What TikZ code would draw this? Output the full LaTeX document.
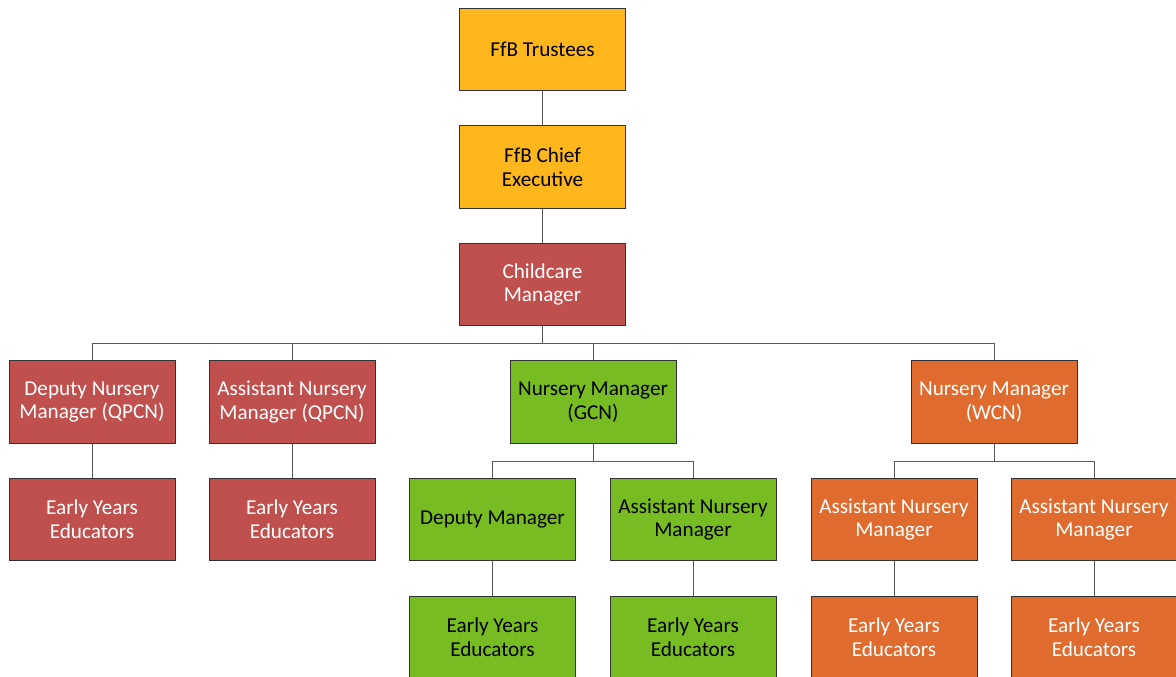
\documentclass[tikz,border=0pt]{standalone}
\usepackage{fontspec}
\setmainfont{Carlito}
\definecolor{ffbyellow}{HTML}{FDB71D}
\definecolor{ffbred}{HTML}{C0504D}
\definecolor{ffbgreen}{HTML}{77BC22}
\definecolor{ffborange}{HTML}{E06B2F}
\tikzset{
    orgbox/.style={draw=black!80, line width=0.75pt, minimum width=124.5pt, minimum height=62pt,
        inner sep=2pt, align=center, font=\fontsize{15.9}{17.8}\selectfont},
    yellowbox/.style={orgbox, fill=ffbyellow, text=black},
    redbox/.style={orgbox, fill=ffbred, text=white},
    greenbox/.style={orgbox, fill=ffbgreen, text=black},
    orangebox/.style={orgbox, fill=ffborange, text=white},
    link/.style={draw=black!65, line width=0.75pt}
}
\begin{document}
\begin{tikzpicture}[x=0.75pt, y=-0.75pt]
    \useasboundingbox (0,0) rectangle (1176,677);
    % top of the chart
    \node[yellowbox] (trustees) at (542.5,49.5) {FfB Trustees};
    \node[yellowbox] (chief) at (542.5,167) {FfB Chief\\Executive};
    \node[redbox] (childcare) at (542.5,284.5) {Childcare\\Manager};
    % second row
    \node[redbox] (qpcndeputy) at (92,402) {Deputy Nursery\\Manager (QPCN)};
    \node[redbox] (qpcnassist) at (292,402) {Assistant Nursery\\Manager (QPCN)};
    \node[greenbox] (gcn) at (593,402) {Nursery Manager\\(GCN)};
    \node[orangebox] (wcn) at (994,402) {Nursery Manager\\(WCN)};
    % third row
    \node[redbox] (qpcneye1) at (92,519.5) {Early Years\\Educators};
    \node[redbox] (qpcneye2) at (292,519.5) {Early Years\\Educators};
    \node[greenbox] (gcndeputy) at (492.5,519.5) {Deputy Manager};
    \node[greenbox] (gcnassist) at (693,519.5) {Assistant Nursery\\Manager};
    \node[orangebox] (wcnassist1) at (894,519.5) {Assistant Nursery\\Manager};
    \node[orangebox] (wcnassist2) at (1094,519.5) {Assistant Nursery\\Manager};
    % fourth row
    \node[greenbox] (gcneye1) at (492.5,637.5) {Early Years\\Educators};
    \node[greenbox] (gcneye2) at (693,637.5) {Early Years\\Educators};
    \node[orangebox] (wcneye1) at (894,637.5) {Early Years\\Educators};
    \node[orangebox] (wcneye2) at (1094,637.5) {Early Years\\Educators};
    % connectors
    \draw[link] (trustees) -- (chief);
    \draw[link] (chief) -- (childcare);
    \foreach \n in {qpcndeputy,qpcnassist,gcn,wcn}
        \draw[link] (childcare.south) -- ++(0,17.5) -| (\n.north);
    \draw[link] (qpcndeputy) -- (qpcneye1);
    \draw[link] (qpcnassist) -- (qpcneye2);
    \foreach \n in {gcndeputy,gcnassist}
        \draw[link] (gcn.south) -- ++(0,17.5) -| (\n.north);
    \foreach \n in {wcnassist1,wcnassist2}
        \draw[link] (wcn.south) -- ++(0,17.5) -| (\n.north);
    \draw[link] (gcndeputy) -- (gcneye1);
    \draw[link] (gcnassist) -- (gcneye2);
    \draw[link] (wcnassist1) -- (wcneye1);
    \draw[link] (wcnassist2) -- (wcneye2);
\end{tikzpicture}
\end{document}
